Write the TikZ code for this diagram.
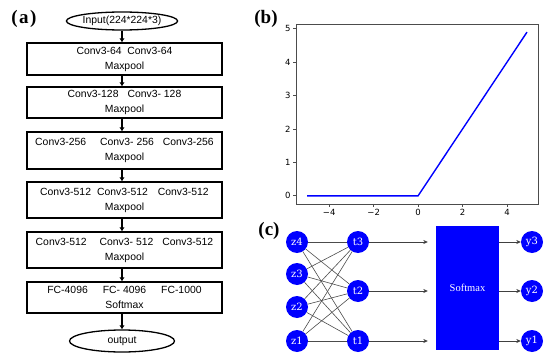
\documentclass[tikz,border=0pt]{standalone}
\usepackage{fontspec}
\setmainfont{Liberation Sans}
\newfontfamily\tagfont{Liberation Serif}
\newfontfamily\plotfont{DejaVu Sans}
\newfontfamily\netfont{DejaVu Serif}
\usetikzlibrary{positioning,arrows.meta,shapes.geometric,calc}

\begin{document}
\begin{tikzpicture}[x=1pt, y=-1pt, >=Latex,
  tag/.style={inner sep=0pt, font=\tagfont\bfseries\fontsize{19}{19}\selectfont},
  layer/.style={draw, rectangle, line width=1.3pt, minimum width=195pt, align=center, inner sep=0pt, font=\fontsize{10.4}{15}\selectfont},
  io/.style={draw, ellipse, line width=1.3pt, inner sep=0pt, font=\fontsize{10.4}{12}\selectfont},
  flow/.style={->, line width=1.6pt, >={Latex[length=4pt,width=5.5pt]}},
  unit/.style={circle, fill=blue, text=white, minimum size=22pt, inner sep=0pt, font=\netfont\fontsize{10}{10}\selectfont},
  wire/.style={draw=black!70, line width=0.6pt},
  feed/.style={->, draw=black!75, line width=0.6pt, >={Stealth[length=4.5pt,width=4pt]}}]
  \useasboundingbox (0,0) rectangle (550,359);

  % (a) network layers
  \node[tag] (taga) at (24,19) {(\kern1.5pt a\kern1.5pt)};
  \node[io, minimum width=104pt, minimum height=18pt] (input) at (122,21) {Input(224*224*3)};
  \node[layer, minimum height=32pt] (b1) at (124.5,59) {Conv3-64\ \ Conv3-64\\Maxpool};
  \node[layer, minimum height=31pt] (b2) at (124.5,102.5) {Conv3-128\hspace{9pt}Conv3- 128\\Maxpool};
  \node[layer, minimum height=37pt] (b3) at (124.5,150.5) {Conv3-256\hspace{14pt}Conv3- 256\hspace{9pt}Conv3-256\\Maxpool};
  \node[layer, minimum height=36pt] (b4) at (124.5,200) {Conv3-512\hspace{6pt}Conv3-512\hspace{10pt}Conv3-512\\Maxpool};
  \node[layer, minimum height=36pt] (b5) at (124.5,250) {Conv3-512\hspace{13pt}Conv3- 512\hspace{9pt}Conv3-512\\Maxpool};
  \node[layer, minimum height=31pt] (b6) at (124.5,297.5) {FC-4096\hspace{15pt}FC- 4096\hspace{15pt}FC-1000\\Softmax};
  \node[io, minimum width=105pt, minimum height=22pt] (output) at (122,341) {output};
  \draw[flow] (input) -- (input |- b1.north);
  \draw[flow] (b1.south -| input) -- (b2.north -| input);
  \draw[flow] (b2.south -| input) -- (b3.north -| input);
  \draw[flow] (b3.south -| input) -- (b4.north -| input);
  \draw[flow] (b4.south -| input) -- (b5.north -| input);
  \draw[flow] (b5.south -| input) -- (b6.north -| input);
  \draw[flow] (b6.south -| input) -- (output);

  % (b) relu curve
  \node[tag] (tagb) at (266,19) {(b)};
  \begin{scope}[shift={(418.1,195.8)}, x=22.22pt, y=33.4pt, font=\plotfont\fontsize{8.5}{8.5}\selectfont]
    \draw[black!70, line width=0.8pt] (-5.495,-0.245) rectangle (5.395,5.145);
    \foreach \t/\s in {-4/−4, -2/−2, 0/0, 2/2, 4/4}
      \draw[black!70, line width=0.8pt] (\t,-0.245) -- ++(0,-3.5pt) node[below, inner sep=1.5pt, text=black] {\s};
    \foreach \t in {0,...,5}
      \draw[black!70, line width=0.8pt] (-5.495,\t) -- ++(-3.5pt,0) node[left, inner sep=1.5pt, text=black] {\t};
    \draw[blue, line width=1.4pt] (-5,0) -- (0,0) -- (4.9,4.9);
  \end{scope}

  % (c) softmax layer
  \node[tag] (tagc) at (269,231) {(c)};
  \node[unit] (z4) at (297,242) {z4};
  \node[unit] (z3) at (297,274) {z3};
  \node[unit] (z2) at (297,307) {z2};
  \node[unit] (z1) at (297,341) {z1};
  \node[unit] (t3) at (358,242) {t3};
  \node[unit] (t2) at (358,291) {t2};
  \node[unit] (t1) at (358,341) {t1};
  \foreach \i in {1,...,4}
    \foreach \j in {1,2,3}
      \draw[wire] (z\i) -- (t\j);
  \node[fill=blue, text=white, minimum width=63pt, minimum height=124pt, font=\tagfont\fontsize{10.5}{10.5}\selectfont] (sm) at (467.5,288) {Softmax};
  \node[unit] (y3) at (532,242) {y3};
  \node[unit] (y2) at (532,291) {y2};
  \node[unit] (y1) at (532,341) {y1};
  \foreach \k in {1,2,3} {
    \coordinate (e\k) at ($(sm.west |- t\k) + (-8,0)$);
    \draw[feed] (t\k) -- (e\k);
    \draw[feed] (sm.east |- y\k) -- (y\k);
  }
\end{tikzpicture}
\end{document}
